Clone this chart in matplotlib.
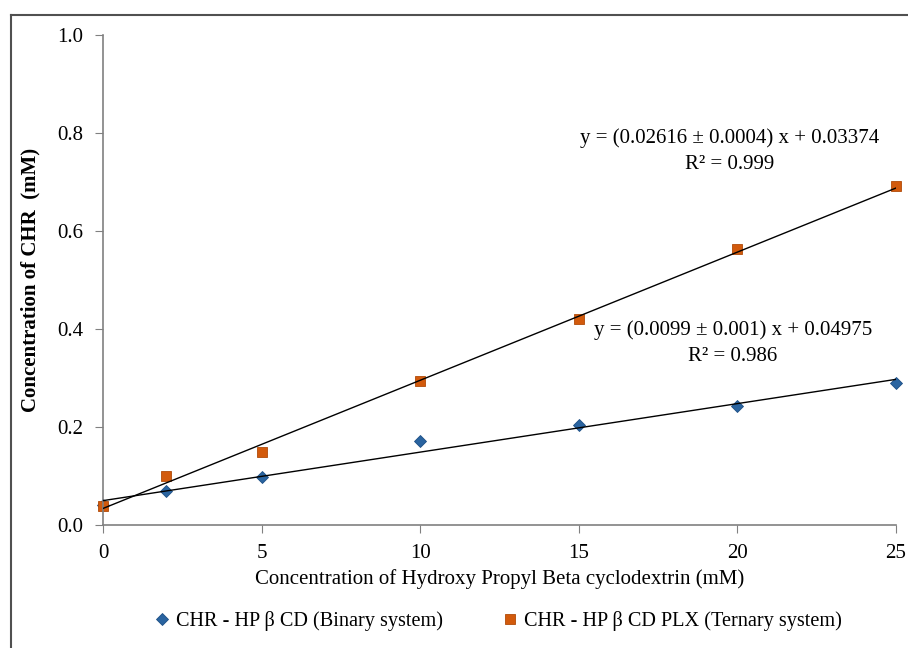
import numpy as np
import matplotlib
matplotlib.use("Agg")
import matplotlib.pyplot as plt
from matplotlib.lines import Line2D

plt.rcParams["font.family"] = ["Liberation Serif", "DejaVu Serif"]

# HP-beta-CD concentration (mM)
conc = [0, 2, 5, 10, 15, 20, 25]
# CHR concentration (mM)
binary = [0.040, 0.069, 0.098, 0.171, 0.204, 0.243, 0.290]
ternary = [0.039, 0.100, 0.149, 0.294, 0.420, 0.563, 0.692]

# linear fits as printed on the chart
fit_binary = (0.0099, 0.04975)
fit_ternary = (0.02616, 0.03374)
eq_binary = "y = (0.0099 ± 0.001) x + 0.04975\nR² = 0.986"
eq_ternary = "y = (0.02616 ± 0.0004) x + 0.03374\nR² = 0.999"

blue = "#2a64a0"
orange = "#d25a0c"

fig = plt.figure(figsize=(9.08, 6.48), dpi=100)
ax = fig.add_axes([0.1134, 0.1898, 0.8734, 0.7562])

xs = np.array([conc[0], conc[-1]], float)
ax.plot(xs, fit_ternary[0] * xs + fit_ternary[1], color="black", lw=1.0, zorder=3)
ax.plot(xs, fit_binary[0] * xs + fit_binary[1], color="black", lw=1.0, zorder=3)

ax.plot(conc, binary, "D", color=blue, ms=6, mec="#1d4f85", mew=0.6,
        ls="none", zorder=2, clip_on=False, label="CHR - HP β CD (Binary system)")
ax.plot(conc, ternary, "s", color=orange, ms=7.5, mec="#b04a08", mew=0.6,
        ls="none", zorder=2, clip_on=False, label="CHR - HP β CD PLX (Ternary system)")

ax.set_xlim(0, 25)
ax.set_ylim(0, 1.0)
ax.set_xticks([0, 5, 10, 15, 20, 25])
ax.set_yticks(np.arange(0, 1.01, 0.2))
ax.yaxis.set_major_formatter(matplotlib.ticker.FormatStrFormatter("%.1f"))
for s in ["top", "right"]:
    ax.spines[s].set_visible(False)
for s in ["left", "bottom"]:
    ax.spines[s].set_color("#808080")
    ax.spines[s].set_linewidth(1.2)
ax.tick_params(direction="out", length=6, color="#808080", labelsize=15, pad=8)
ax.set_xlabel("Concentration of Hydroxy Propyl Beta cyclodextrin (mM)",
              fontsize=15, labelpad=4)
ax.set_ylabel("Concentration of CHR  (mM)", fontsize=15, fontweight="bold",
              labelpad=12)

ax.text(19.77, 0.763, eq_ternary, ha="center", va="center", fontsize=15,
        linespacing=1.5)
ax.text(19.86, 0.371, eq_binary, ha="center", va="center", fontsize=15,
        linespacing=1.5)

fig.legend(loc="center", bbox_to_anchor=(0.548, 0.042), ncol=2, frameon=False,
           fontsize=14.6, handlelength=0.8, handletextpad=0.3, columnspacing=2.9)

# outer frame (left and top edges)
fig.add_artist(Line2D([0.012, 0.012], [0.0, 0.977], color="#505050", lw=1.5))
fig.add_artist(Line2D([0.012, 1.0], [0.977, 0.977], color="#505050", lw=1.5))

fig.savefig("out.png", dpi=100)
